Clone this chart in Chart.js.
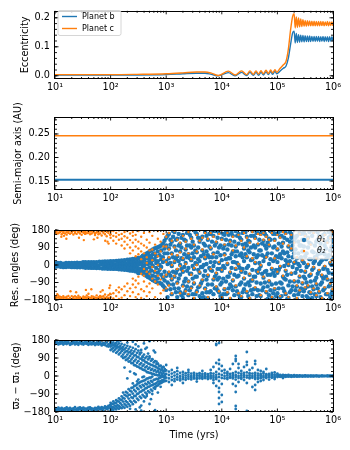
<!DOCTYPE html>
<html>
<head>
<meta charset="utf-8">
<script src="https://cdn.jsdelivr.net/npm/chart.js@4.4.0/dist/chart.umd.min.js"></script>
<style>
  html, body { margin: 0; padding: 0; background: #fff; }
  #wrap { position: relative; width: 350px; height: 450px; }
  #wrap canvas { position: absolute; left: 0; top: 0; }
</style>
</head>
<body>
<div id="wrap">
  <canvas id="ecc" width="350" height="450"></canvas>
  <canvas id="axis" width="350" height="450"></canvas>
  <canvas id="res" width="350" height="450"></canvas>
  <canvas id="varpi" width="350" height="450"></canvas>
</div>
<script>
const BLUE = '#1f77b4';
const ORANGE = '#ff7f0e';

// shared log time axis
const xTickValues = [1e1, 1e2, 1e3, 1e4, 1e5, 1e6];
const xTickLabels = ['10¹', '10²', '10³', '10⁴', '10⁵', '10⁶'];

// y ticks
const eccTicks = [0, 0.1, 0.2];
const eccTickLabels = ['0.0', '0.1', '0.2'];
const axisTicks = [0.15, 0.2, 0.25];
const axisTickLabels = ['0.15', '0.20', '0.25'];
const angleTicks = [-180, -90, 0, 90, 180];
const angleTickLabels = ['−180', '−90', '0', '90', '180'];

// eccentricity vs time (yrs)
const eccTime = [10, 30, 100, 300, 1000, 2000, 3500, 5000, 6500, 8650,
  1.31e4, 1.73e4, 2.27e4, 2.80e4, 3.21e4, 3.69e4, 4.12e4, 4.60e4, 5.07e4, 5.58e4,
  6.24e4, 6.87e4, 7.57e4, 8.22e4, 9.06e4, 9.71e4, 1.11e5, 1.28e5, 1.43e5, 1.57e5,
  1.73e5, 1.88e5, 2.00e5,
  2.09e5, 2.19e5, 2.29e5, 2.40e5, 2.51e5, 2.63e5, 2.75e5, 2.88e5, 3.02e5, 3.16e5,
  3.31e5, 3.47e5, 3.63e5, 3.80e5, 3.98e5, 4.17e5, 4.37e5, 4.57e5, 4.79e5, 5.01e5,
  5.25e5, 5.50e5, 5.75e5, 6.03e5, 6.31e5, 6.61e5, 6.92e5, 7.24e5, 7.59e5, 7.94e5,
  8.32e5, 8.71e5, 9.12e5, 9.55e5, 1.0e6];
const eccB = [0.003, 0.003, 0.003, 0.003, 0.004, 0.007, 0.009, 0.009, 0.005, 0.000,
  0.011, 0.000, 0.012, 0.001, 0.012, 0.002, 0.012, 0.002, 0.013, 0.003,
  0.014, 0.004, 0.015, 0.005, 0.016, 0.007, 0.016, 0.026, 0.034, 0.060,
  0.110, 0.148, 0.154,
  0.113, 0.146, 0.115, 0.142, 0.116, 0.140, 0.117, 0.139, 0.117, 0.138,
  0.118, 0.137, 0.118, 0.137, 0.118, 0.136, 0.118, 0.136, 0.118, 0.136,
  0.119, 0.136, 0.118, 0.135, 0.119, 0.136, 0.118, 0.135, 0.119, 0.135,
  0.118, 0.135, 0.119, 0.135, 0.119];
const eccC = [0.004, 0.004, 0.004, 0.005, 0.007, 0.010, 0.013, 0.013, 0.009, 0.001,
  0.016, 0.003, 0.017, 0.004, 0.017, 0.005, 0.017, 0.006, 0.018, 0.007,
  0.019, 0.008, 0.020, 0.010, 0.021, 0.012, 0.025, 0.038, 0.050, 0.090,
  0.160, 0.205, 0.214,
  0.165, 0.203, 0.167, 0.199, 0.169, 0.196, 0.170, 0.193, 0.171, 0.191,
  0.171, 0.190, 0.172, 0.189, 0.172, 0.188, 0.172, 0.188, 0.172, 0.187,
  0.172, 0.187, 0.172, 0.187, 0.173, 0.187, 0.172, 0.186, 0.173, 0.187,
  0.172, 0.186, 0.173, 0.186, 0.172];

// semi-major axis (AU)
const axisTime = [10, 1e6];
const axisB = [0.1528, 0.1528];
const axisC = [0.2462, 0.2462];

// resonant angle theta1: rows of [time, angles...]
const theta1Rows = [
  [10, 9, -10], [10.6, 0], [11.2, -7, 11], [11.9, 2], [12.6, 10, -9], [13.3, -2], [14.1, -11, 7], [15, 3],
  [15.8, 11, -10], [16.8, 0], [17.8, -9, 11], [18.8, -3], [20, 11, -11], [21, 2], [22.4, -11, 10], [23.7, -2],
  [25, 12, -12], [26.6, 3], [28.2, -12, 11], [30, 0], [32, 14, -12], [33.5, -3], [35.5, -14, 14], [37.6, 2],
  [40, 15, -14], [42, -2], [44.7, -15, 14], [47.3, 3], [50, 15, -15], [53, 0], [56, -16, 15], [60, -3],
  [63, 17, -16], [67, 2], [71, -18, 17], [75, 0], [79, 18, -18], [84, -2, 7], [89, -19, 18], [94, 3, -7],
  [100, 19, -19], [106, 0, 8], [112, -20, 20], [119, 2, -8], [126, 21, -20], [133, -6, 7], [141, -22, 22],
  [150, 6, -7], [158, 24, -23], [168, 0, 11, -11], [178, -25, 25], [188, 8, -9], [200, 27, -26, 0],
  [211, 12, -13], [224, -29, 28, 2], [237, 5, 16, -15], [251, 31, -30, 0], [266, -15, 0, 16],
  [282, -33, 33, 4], [299, 17, -18, 36, -2], [316, 36, -35, 4, -42],
  [331, 35, -33, 15, -18], [355, 40, -38, 5, 25, -25], [380, 48, -44, -10, 20], [407, 52, -50, 30, -30, 0],
  [437, 58, -55, 12, -20, 40], [468, 62, -62, -38, 35, 5], [501, 70, -66, 22, -12, 48, -45],
  [537, 75, -72, -28, 40, 8], [575, 80, -78, 55, -55, -5, 25], [617, 85, -82, 30, -35, 60],
  [661, 88, -88, -15, 45, -60, 10], [708, 92, 70, -70, 20, -40], [759, 95, -92, 50, -25, 0],
  [813, 100, -96, 75, -50, 30, -10], [871, 110, -105, 40, -65, 15], [933, 125, -115, 85, -35, 60, -80],
  [1000, 140, 100, 20, -55, -128], [1060, 150, 60, 5, -90, -165], [1120, 160, 85, 35, -40, -100],
  [1190, 105, 10, 130, -125, -55], [1260, 120, 60, -5, -75, -150], [1330, 145, 40, -35, -100, 175],
  [1410, 170, 95, 15, -60, -120], [1500, 75, -40, -140, 130, 30], [1580, 135, 45, -25, -90, -165],
  [1680, 160, 20, -70, 100, -120], [1780, 110, 70, 0, -50, -140], [1880, 90, -20, -155, 140, 35],
  [2000, 155, 30, -35, -105, -170], [2110, 130, 55, -85, -10, -145], [2240, 125, 80, 10, -70, -130],
  [2370, 165, -30, -110, 100, 40], [2510, 175, 55, -15, -85, -155], [2660, 100, 35, -130, 155, -45],
  [2820, 140, 90, 25, -45, -115], [2990, 120, -5, -70, 60, -150], [3160, 100, 40, -20, -95, -175],
  [3350, 170, 10, -150, 75, -60], [3550, 160, 65, 5, -60, -135], [3760, 90, -25, -115, 140, 30],
  [3980, 120, 20, -40, -110, -160], [4220, 135, 45, -95, -10, -170], [4470, 145, 75, -10, -80, -145],
  [4730, 110, 0, -165, 55, -55], [5010, 170, 100, 35, -30, -120], [5310, 150, 70, -75, 5, -140],
  [5620, 130, 50, -55, -100, -170], [5960, 95, -15, -140, 160, 40], [6310, 85, 15, -25, -135, 160],
  [6680, 120, 40, -100, -30, 175], [7080, 150, 60, -5, -75, -150], [7500, 175, 15, -60, 100, -120],
  [7940, 115, 40, -45, -115, 175], [8410, 140, -20, -130, 65, -75], [8910, 165, 90, 10, -65, -140],
  [9440, 100, 50, -100, -20, -160], [1e4, 135, 25, -30, -90, -170], [1.06e4, 160, -5, -150, 85, -70],
  [1.12e4, 100, 55, -15, -125, 155], [1.19e4, 130, 30, -85, -150, 175], [1.26e4, 170, 80, 5, -60, -145],
  [1.33e4, 105, -60, -120, 35, 155], [1.41e4, 125, 35, -40, -100, -175], [1.50e4, 165, 55, -15, -110, 100],
  [1.58e4, 150, 70, 15, -80, -130], [1.68e4, 120, -50, -155, 15, 70], [1.78e4, 95, 45, -20, -110, 175],
  [1.88e4, 70, 10, -135, 150, -60], [2e4, 160, 110, 0, -55, -150], [2.11e4, 140, -15, -100, 50, -165],
  [2.24e4, 130, 60, -35, -90, -165], [2.37e4, 105, 40, -140, -20, 165], [2.51e4, 85, 20, -70, -125, 170],
  [2.66e4, 170, -40, -100, 55, 110], [2.82e4, 145, 100, 40, -15, -140], [2.99e4, 75, -5, -160, 125, -90],
  [3.16e4, 120, 65, -50, -105, -175], [3.35e4, 150, 25, -80, -130, 90], [3.55e4, 175, 30, -25, -80, -150],
  [3.76e4, 100, -60, -125, 55, 150], [3.98e4, 140, 90, 10, -60, -120], [4.22e4, 165, 40, -30, -90, -160],
  [4.47e4, 105, 50, -40, -130, 165], [4.73e4, 130, -20, -155, 75, 10], [5.01e4, 160, 75, -5, -95, -160],
  [5.31e4, 110, 50, -130, -45, 170], [5.62e4, 125, 20, -65, -115, 170], [5.96e4, 160, -35, -90, 40, 100],
  [6.31e4, 150, 85, 45, -30, -140], [6.68e4, 60, -50, -175, 115, -110], [7.08e4, 100, 5, -85, -155, 135],
  [7.50e4, 130, 30, -130, -50, 175], [7.94e4, 170, 60, -20, -100, -170], [8.41e4, 90, -40, -145, 160, 20],
  [8.91e4, 130, 95, 30, -55, -125], [9.44e4, 160, 45, -95, -25, -160], [1e5, 80, 15, -40, -145, 160],
  [1.06e5, 110, -25, -120, 40, 170], [1.12e5, 145, 55, -10, -90, -165], [1.19e5, 35, -95, 150, -160, 95],
  [1.26e5, 115, 70, -60, -120, 175], [1.33e5, 140, -5, -135, 60, -70], [1.41e5, 165, 25, -30, -75, -150],
  [1.50e5, 65, -50, -175, 130, 10], [1.58e5, 95, 45, 0, -105, -170], [1.68e5, 120, 20, -85, -140, 170],
  [1.78e5, 140, 80, -45, -130, 160], [1.88e5, 100, -10, -110, 150, 40], [2e5, 60, 10, -85, -155, 120],
  [2.11e5, 80, -40, -130, 140, 15], [2.24e5, 150, 35, -20, -110, -175], [2.37e5, 120, 5, -85, -150, 60],
  [2.51e5, 100, -5, -60, -135, 165], [2.66e5, 40, -30, -120, 160, 100], [2.82e5, 70, 20, -95, -160, 130],
  [2.99e5, 95, -60, -135, 10, 170], [3.16e5, 45, -35, -70, -120, 155], [3.35e5, 60, -10, -90, -160, 130],
  [3.55e5, 90, 0, -110, -170, 140], [3.76e5, 115, 30, -55, -140, 170], [3.98e5, 30, -50, -85, -145, 110],
  [4.22e5, 70, -25, -110, 150, -170], [4.47e5, 65, -15, -125, 170, 10], [4.73e5, 100, 20, -80, -150, 40],
  [5.01e5, 120, 40, -65, -100, -160], [5.31e5, 55, -45, -120, 170, 130], [5.62e5, 80, -30, -140, 150, 5],
  [5.96e5, 110, 15, -100, -165, 60], [6.31e5, 25, -55, -90, -175, 135], [6.68e5, 65, -20, -130, 155, -70],
  [7.08e5, 100, -10, -120, 160, 55], [7.50e5, 120, 30, -60, -150, 85], [7.94e5, 40, -75, -150, 120, -25],
  [8.41e5, 50, -40, -110, 170, 140], [8.91e5, 75, 10, -100, -165, 145], [9.44e5, 95, 0, -80, -145, 160],
  [9.8e5, 125, 30, -45, -130, 175]
];

// resonant angle theta2: rows of [time, angles...]
const theta2Rows = [
  [10, 176, 166, -172, -162], [10.7, 170, 160, -177, -166], [11.5, 178, 163, -168, -158], [12.3, 168, 172, -174, -163],
  [13.2, 175, 158, -165, -176], [14.1, 165, 171, -170, -160], [15.1, 177, 162, -178, -167], [16.2, 169, 156, -163, -172],
  [17.4, 174, 165, -175, -159], [18.6, 161, 178, -168, -172], [20, 172, 166, -160, -177], [21.4, 176, 157, -171, -164],
  [22.9, 164, 170, -176, -161], [24.5, 178, 160, -166, -173], [26.3, 168, 173, -158, -170], [28.2, 162, 176, -174, -165],
  [30.2, 171, 155, -169, -178], [32.4, 175, 166, -162, -172], [34.7, 160, 170, -176, -166], [37.2, 177, 163, -170, -157],
  [39.8, 166, 174, -164, -175], [42.7, 158, 172, -178, -168], [45.7, 175, 162, -160, -171], [49, 169, 178, -173, -163],
  [52.5, 163, 154, -167, -177], [56.2, 176, 167, -156, -170], [60.3, 170, 158, -175, -165], [64.6, 162, 177, -169, -159],
  [69.2, 174, 152, -178, -163], [74.1, 166, 172, -161, -172], [79.4, 158, 176, -170, -152], [85.1, 171, 148, -176, -164],
  [91.2, 164, 177, -155, -169], [97.7, 175, 155, -172, -148],
  [11, -150], [13, 145], [14.5, 150], [16, 135], [19, -135], [24, -140], [27, 140], [33, 128], [36, -128],
  [40, -148], [45, -125], [50, 132], [58, 140], [66, -138], [72, -130], [80, 125], [88, 120], [92, 110],
  [95, -118], [98, -105],
  [100, 172, 158, 140, -165, -150], [112, 175, 150, 125, -172, -145], [126, 165, 145, 110, -160, -130],
  [141, 178, 155, 130, -175, -140, -115], [158, 160, 135, 100, -168, -125], [178, 170, 148, 120, 85, -155, -110],
  [200, 175, 140, 105, -178, -135, -95], [224, 162, 128, 90, 60, -160, -120], [251, 170, 150, 115, 75, -140, -100, -70],
  [282, 155, 130, 95, 45, -165, -115, -80], [316, 175, 120, 85, 55, -150, -95, -60], [355, 145, 110, 70, 30, -170, -125, -45],
  [398, 165, 100, 60, -20, -135, -85, -55], [447, 130, 90, 40, 10, -160, -110, -35], [501, 170, 115, 75, -45, -140, -95],
  [562, 150, 80, 25, -10, -120, -70], [631, 105, 60, -30, -165, -85], [708, 175, 135, 45, 0, -100, -55],
  [794, 120, 70, -20, -145, -75], [891, 160, 95, 30, -60, -130],
  [1000, 145, 95, 15, -50, -120], [1120, 165, 80, 40, -35, -105], [1260, 125, 55, 0, -70, -145], [1410, 175, 90, 20, -55],
  [1580, 130, 50, -20, -95], [1780, 115, 65, -5, -145], [2000, 150, 35, -30, -110], [2240, 120, 85, 5, -135],
  [2510, 170, 60, -85, -150], [2820, 135, 30, -50, -120], [3160, 105, -15, -90, -170], [3550, 155, 70, 0, -140],
  [3980, 125, -35, -105], [4470, 140, 80, -75], [5010, 165, 40, -125], [5620, 135, -50, -165], [6310, 90, -20, 165],
  [7080, 145, 55, -70], [7940, 120, -40, -110], [8910, 160, 15, -135], [1e4, 130, -25, -165], [1.12e4, 105, 50, -120],
  [1.26e4, 165, 10, -140], [1.41e4, 120, -35, -170], [1.58e4, 145, 75, -75], [1.78e4, 100, -15, -105],
  [2e4, 155, 5, -145], [2.24e4, 125, -30, -160], [2.51e4, 90, -65, 165], [2.82e4, 140, 45, -135],
  [3.16e4, 115, -45, -170], [3.55e4, 170, 35, -75], [3.98e4, 135, 15, -115], [4.47e4, 110, -35, 160],
  [5.01e4, 155, 0, -155], [5.62e4, 130, -60, 165], [6.31e4, 145, 40, -135], [7.08e4, 105, -80, 130],
  [7.94e4, 165, -15, -165], [8.91e4, 125, 35, -120], [1e5, 85, -35, 155], [1.12e5, 140, -5, -160],
  [1.26e5, 110, -55, 170], [1.41e5, 160, -25, -145], [1.58e5, 100, 5, -165], [1.78e5, 85, -40, 155],
  [2e5, 15, -80, 115], [2.24e5, 40, -105, -170], [2.51e5, -55, -130, 160], [2.82e5, 25, -90, 125],
  [3.16e5, -30, -115, 150], [3.55e5, 5, -105, 135], [3.98e5, -45, -140, 105], [4.47e5, -10, -120, 165],
  [5.01e5, 35, -95, -155], [5.62e5, -25, -135, 145], [6.31e5, -50, -170, 130], [7.08e5, -5, -115, 155],
  [7.94e5, -70, -145, 115], [8.91e5, 15, -95, 140], [9.8e5, 25, -125, 170]
];

// varpi2 - varpi1: rows of [time, angles...]
const dVarpiRows = [
  [10, 168, 160, -170, -161], [10.7, 172, 163, -164, -175], [11.5, 165, 158, -168, -158], [12.3, 170, 161, -173, -163],
  [13.2, 163, 174, -160, -169], [14.1, 167, 157, -176, -165], [15.1, 172, 162, -162, -171], [16.2, 160, 168, -167, -157],
  [17.4, 175, 164, -172, -163], [18.6, 162, 156, -159, -169], [20, 169, 160, -175, -164], [21.4, 164, 173, -162, -170],
  [22.9, 158, 167, -168, -156], [24.5, 171, 161, -174, -165], [26.3, 165, 156, -160, -170], [28.2, 174, 163, -166, -157],
  [30.2, 160, 169, -171, -162], [32.4, 166, 157, -158, -168], [34.7, 172, 162, -175, -163], [37.2, 161, 168, -163, -171],
  [39.8, 167, 156, -169, -158], [42.7, 173, 160, -157, -166], [45.7, 158, 166, -172, -162], [49, 170, 161, -164, -174],
  [52.5, 163, 155, -159, -168], [56.2, 168, 159, -170, -161], [60.3, 157, 165, -163, -154], [64.6, 171, 160, -168, -159],
  [69.2, 162, 153, -156, -165], [74.1, 166, 157, -172, -160], [79.4, 155, 163, -161, -152], [85.1, 168, 150, -166, -156],
  [91.2, 158, 147, -150, -162], [97.7, 163, 152, -158, -146],
  [100, 171, 156, 147, 130, -173, -158, -149, -134], [106, 162, 152, 136, -165, -155, -139],
  [112, 168, 154, 141, 123, -170, -157, -140, -127], [119, 159, 148, 131, -162, -148, -134],
  [126, 166, 149, 138, 116, -167, -153, -135, -121], [133, 156, 143, 122, -159, -146, -126, 174],
  [141, 163, 144, 131, 108, -164, -150, -128, -112], [150, 150, 137, 116, -157, -136, -118, 176],
  [158, 161, 138, 124, 98, -161, -144, -120, -102], [168, 146, 132, 107, 90, -153, -128, -110, -83],
  [178, 156, 133, 117, 93, 42, -159, -140, -113, -94], [188, 141, 122, 97, 80, -147, -126, -98, -80],
  [200, 151, 126, 107, 83, -12, -154, -132, -103, -84, 167], [211, 136, 117, 90, 72, -141, -113, -94, -66],
  [224, 146, 120, 100, 73, 22, -149, -124, -94, -74, -164], [237, 128, 110, 83, 64, -131, -107, -78, -60],
  [251, 141, 113, 92, 64, -37, -141, -110, -88, -58, 171], [266, 123, 102, 74, 54, 13, -124, -100, -70, -50],
  [282, 134, 104, 82, 53, 8, -131, -100, -77, -48, -167, 158], [299, 116, 94, 66, 47, -27, -113, -90, -60, -42],
  [316, 127, 96, 74, 46, -18, -120, -88, -66, -36, 148], [335, 108, 87, 58, 40, 116, -103, -80, -50, -32, -157],
  [355, 117, 86, 64, 38, 130, -110, -78, -57, -28, -148, -173], [376, 98, 78, 50, 32, -6, -94, -72, -44, -26, 93],
  [398, 107, 78, 57, 30, -3, -102, -70, -50, -23, 163, -127], [422, 90, 70, 43, 27, 136, -83, -62, -38, -20, -108],
  [447, 97, 68, 48, 20, 142, -90, -60, -42, -13, -100], [473, 83, 62, 36, 18, -76, -54, -30, -12, 112],
  [501, 90, 60, 42, 16, 98, -82, -53, -37, -8, -140, 174], [531, 76, 56, 30, 14, -68, -48, -24, -8, -116],
  [562, 82, 54, 36, 10, -3, -74, -46, -30, 84, -90], [596, 68, 50, 26, 10, -60, -42, -20, 127],
  [631, 74, 48, 30, 6, -56, -40, -18, 118, -64, -171], [668, 60, 44, 20, 6, -50, -36, -14, 72],
  [708, 62, 38, 24, 3, -47, -28, -16, 60, -83], [750, 50, 36, 16, 4, -40, -28, -10],
  [794, 52, 30, 18, 0, -36, -26, -8, -54], [841, 42, 30, 10, 2, -32, -22, -4, 42],
  [891, 44, 24, 14, -2, -28, -20, -4, 46], [944, 34, 24, 6, 0, -26, -12],
  [1000, 28, 10, -8, -24, 55], [1120, 22, 5, -12, -30], [1260, 30, 12, -4, -20, -45], [1410, 18, 2, -14, -26],
  [1580, 24, 8, -6, -18, 40], [1780, 16, 0, -12, -22], [2000, 20, 7, -5, -16, -35], [2240, 14, 2, -9, -19],
  [2510, 18, 6, -4, -14, 30], [2820, 12, 0, -8, -17], [3160, 16, 5, -5, -13], [3550, 11, 1, -9, -15, -28],
  [3980, 14, 4, -4, -12], [4470, 10, 0, -7, -14, 25], [5010, 13, 5, -3, -11], [5620, 9, -1, -8, -15],
  [6310, 14, 3, -5, -12, 30], [7080, 12, 0, -9, -20, 45, -35], [7940, 20, 6, -6, -15, 65, -50, 160, 155],
  [8910, 35, 10, -5, -25, -60, -80, -110, -140, 80, 60, 165], [1e4, 25, 5, -10, -40, -95, 50, -130],
  [1.12e4, 15, 0, -12, 30], [1.26e4, 12, 3, -8, -15, 20], [1.41e4, 10, -2, -9, 35], [1.58e4, 14, 4, -6, -12, 60, -40],
  [1.78e4, 20, 5, -5, -18, 100, 85, -50, -80, -150, -165, 75], [2e4, 15, 0, -10, 40, -30, 60],
  [2.24e4, 12, 3, -7, -14, 25], [2.51e4, 16, 5, -5, -20, 45], [2.82e4, 18, 2, -8, 70, 55, 120, -175, -35],
  [3.16e4, 14, 4, -6, -12, 30], [3.55e4, 12, 0, -9, 40, -55], [3.98e4, 16, 5, -5, -15, 75, 60, -45, -70],
  [4.47e4, 12, 2, -8, -14, 30, -30], [5.01e4, 10, 4, -4, -11, 25, -25], [5.62e4, 12, 0, -7, 20, -20],
  [6.31e4, 9, 3, -5, -10, 35], [7.08e4, 10, 1, -6, -18], [7.94e4, 8, 2, -4, -9, 15], [8.91e4, 7, 0, -6, 18, -15],
  [1e5, 6, 0, -5, 12], [1.06e5, 3, -2], [1.12e5, 5, 1, -4], [1.19e5, 2, -3], [1.26e5, 6, -1, -5, -10], [1.33e5, 3, -2],
  [1.41e5, 4, 0, -4], [1.50e5, 2, -2], [1.58e5, 5, 1, -3], [1.68e5, 2, -2], [1.78e5, 3, -1, -4], [1.88e5, 1, -2],
  [2e5, 4, 0, -3], [2.11e5, 1, -1], [2.24e5, 3, -1, -3], [2.37e5, 1, -2], [2.51e5, 3, 0, -2], [2.66e5, 1, -1],
  [2.82e5, 2, -1, -3], [2.99e5, 1, -1], [3.16e5, 3, 0, -2], [3.35e5, 1, -1], [3.55e5, 2, -1, -2], [3.76e5, 0],
  [3.98e5, 2, 0, -2], [4.22e5, 1, -1], [4.47e5, 2, -1, -2], [4.73e5, 0], [5.01e5, 2, 0, -1], [5.31e5, 1, -1],
  [5.62e5, 1, -1, -2], [5.96e5, 0], [6.31e5, 2, 0, -1], [6.68e5, 1, -1], [7.08e5, 1, -1], [7.50e5, 0],
  [7.94e5, 2, 0, -1], [8.41e5, 1, -1], [8.91e5, 1, -1, 0], [9.44e5, 0], [9.8e5, 1, 0, -1]
];

const FONT = '"DejaVu Sans"';
const tickFont = { family: FONT, size: 9.7 };

const rowsToPoints = rows => rows.flatMap(([t, ...angles]) => angles.map(a => ({ x: t, y: a })));
const seriesPoints = (times, values) => times.map((t, i) => ({ x: t, y: values[i] }));

// inward ticks on all four sides plus the axes frame
const frameTicks = {
  id: 'frameTicks',
  afterDatasetsDraw(chart, args, opts) {
    const { ctx, chartArea: a, scales: { x, y } } = chart;
    const seg = (x1, y1, x2, y2) => { ctx.moveTo(x1, y1); ctx.lineTo(x2, y2); };
    ctx.save();
    ctx.strokeStyle = '#000';
    ctx.lineWidth = 0.9;
    ctx.beginPath();
    xTickValues.forEach(v => {
      const p = x.getPixelForValue(v);
      seg(p, a.bottom, p, a.bottom - 3.5);
      seg(p, a.top, p, a.top + 3.5);
    });
    for (let d = 10; d < 1e6; d *= 10) {
      for (let k = 2; k <= 9; k++) {
        const p = x.getPixelForValue(k * d);
        seg(p, a.bottom, p, a.bottom - 2);
        seg(p, a.top, p, a.top + 2);
      }
    }
    y.ticks.forEach(t => {
      const p = y.getPixelForValue(t.value);
      seg(a.left, p, a.left + 3.5, p);
      seg(a.right, p, a.right - 3.5, p);
    });
    const step = opts.minorStep;
    for (let i = Math.ceil(y.min / step - 1e-6); i * step <= y.max + 1e-9; i++) {
      const p = y.getPixelForValue(i * step);
      seg(a.left, p, a.left + 2, p);
      seg(a.right, p, a.right - 2, p);
    }
    ctx.stroke();
    ctx.lineWidth = 1;
    ctx.strokeRect(Math.round(a.left) - 0.5, Math.round(a.top) + 0.5,
      Math.round(a.width) + 1, Math.round(a.height) - 1);
    ctx.restore();
  }
};

// framed legend drawn inside the axes
const boxLegend = {
  id: 'boxLegend',
  afterDraw(chart, args, o) {
    if (!o || !o.box) return;
    const { ctx } = chart;
    const [bx, by, bw, bh] = o.box;
    ctx.save();
    ctx.beginPath();
    ctx.roundRect(bx, by, bw, bh, 2);
    ctx.fillStyle = 'rgba(255,255,255,0.8)';
    ctx.fill();
    ctx.strokeStyle = '#cccccc';
    ctx.lineWidth = 0.8;
    ctx.stroke();
    chart.data.datasets.forEach((ds, i) => {
      const cy = o.rows[i];
      if (o.kind === 'line') {
        ctx.strokeStyle = ds.borderColor;
        ctx.lineWidth = 1.4;
        ctx.beginPath();
        ctx.moveTo(o.markX[0], cy);
        ctx.lineTo(o.markX[1], cy);
        ctx.stroke();
      } else {
        ctx.fillStyle = ds.backgroundColor;
        ctx.beginPath();
        ctx.arc(o.markX[0], cy, ds.pointRadius, 0, Math.PI * 2);
        ctx.fill();
      }
      ctx.fillStyle = '#000';
      ctx.font = o.font;
      ctx.textBaseline = 'middle';
      ctx.fillText(ds.label, o.textX, cy);
    });
    ctx.restore();
  }
};

function xScale(height, title) {
  return {
    type: 'logarithmic', min: 10, max: 1e6,
    grid: { display: false, drawTicks: false },
    border: { display: false },
    afterBuildTicks: s => { s.ticks = xTickValues.map(v => ({ value: v })); },
    ticks: {
      font: tickFont, color: '#000', padding: 3, maxRotation: 0, autoSkip: false,
      callback: v => xTickLabels[xTickValues.findIndex(t => Math.abs(t - v) < 1e-6 * t)]
    },
    title: title
      ? { display: true, text: title, font: tickFont, color: '#000', padding: { top: 0, bottom: 1 } }
      : { display: false },
    afterFit: s => { s.height = height; }
  };
}

function yScale(min, max, ticks, labels, title, titlePad) {
  return {
    min, max,
    grid: { display: false, drawTicks: false },
    border: { display: false },
    afterBuildTicks: s => { s.ticks = ticks.map(v => ({ value: v })); },
    ticks: { font: tickFont, color: '#000', padding: 5, autoSkip: false, callback: (v, i) => labels[i] },
    title: { display: true, text: title, font: tickFont, color: '#000', padding: { top: titlePad, bottom: 0 } },
    afterFit: s => { s.width = 55; }
  };
}

function baseOptions(top, bottom, x, y, frame, legend) {
  return {
    responsive: false,
    animation: false,
    events: [],
    layout: { padding: { left: 0, right: 17, top, bottom } },
    plugins: {
      legend: { display: false },
      tooltip: { enabled: false },
      frameTicks: frame,
      boxLegend: legend || {}
    },
    scales: { x, y }
  };
}

// Eccentricity
new Chart(document.getElementById('ecc'), {
  type: 'line',
  data: {
    datasets: [
      { label: 'Planet b', data: seriesPoints(eccTime, eccB), borderColor: BLUE, borderWidth: 1.4,
        pointRadius: 0, cubicInterpolationMode: 'monotone', order: 1 },
      { label: 'Planet c', data: seriesPoints(eccTime, eccC), borderColor: ORANGE, borderWidth: 1.4,
        pointRadius: 0, cubicInterpolationMode: 'monotone', order: 0 }
    ]
  },
  options: baseOptions(7, 351, xScale(20),
    yScale(-0.011, 0.224, eccTicks, eccTickLabels, 'Eccentricity', 19.5),
    { minorStep: 0.02 },
    { box: [58, 10.5, 63, 25], rows: [16.5, 28.5], kind: 'line', markX: [62, 77], textX: 82,
      font: '8px "DejaVu Sans"' }),
  plugins: [frameTicks, boxLegend]
});

// Semi-major axis
new Chart(document.getElementById('axis'), {
  type: 'line',
  data: {
    datasets: [
      { label: 'Planet b', data: seriesPoints(axisTime, axisB), borderColor: BLUE, borderWidth: 1.8, pointRadius: 0, order: 1 },
      { label: 'Planet c', data: seriesPoints(axisTime, axisC), borderColor: ORANGE, borderWidth: 1.4, pointRadius: 0, order: 0 }
    ]
  },
  options: baseOptions(117, 240, xScale(20),
    yScale(0.131, 0.286, axisTicks, axisTickLabels, 'Semi-major axis (AU)', 12.2),
    { minorStep: 0.01 }),
  plugins: [frameTicks, boxLegend]
});

// Resonant angles
new Chart(document.getElementById('res'), {
  type: 'scatter',
  data: {
    datasets: [
      { label: 'θ₁', data: rowsToPoints(theta1Rows), backgroundColor: BLUE, borderColor: BLUE,
        pointRadius: 2.2, pointBorderWidth: 0, clip: 0, order: 1 },
      { label: 'θ₂', data: rowsToPoints(theta2Rows), backgroundColor: ORANGE, borderColor: ORANGE,
        pointRadius: 1.2, pointBorderWidth: 0, clip: 0, order: 0 }
    ]
  },
  options: baseOptions(230, 130, xScale(20),
    yScale(-180, 180, angleTicks, angleTickLabels, 'Res. angles (deg)', 9.2),
    { minorStep: 22.5 },
    { box: [293.5, 231, 38, 28], rows: [240, 251], kind: 'dot', markX: [304], textX: 317,
      font: 'italic 8px "DejaVu Sans"' }),
  plugins: [frameTicks, boxLegend]
});

// Difference of longitudes of pericentre
new Chart(document.getElementById('varpi'), {
  type: 'scatter',
  data: {
    datasets: [
      { label: 'ϖ₂ − ϖ₁', data: rowsToPoints(dVarpiRows), backgroundColor: BLUE, borderColor: BLUE,
        pointRadius: 1.4, pointBorderWidth: 0, clip: 0 }
    ]
  },
  options: baseOptions(340, 8, xScale(30, 'Time (yrs)'),
    yScale(-180, 180, angleTicks, angleTickLabels, 'ϖ₂ − ϖ₁ (deg)', 10.2),
    { minorStep: 22.5 }),
  plugins: [frameTicks, boxLegend]
});
</script>
</body>
</html>
